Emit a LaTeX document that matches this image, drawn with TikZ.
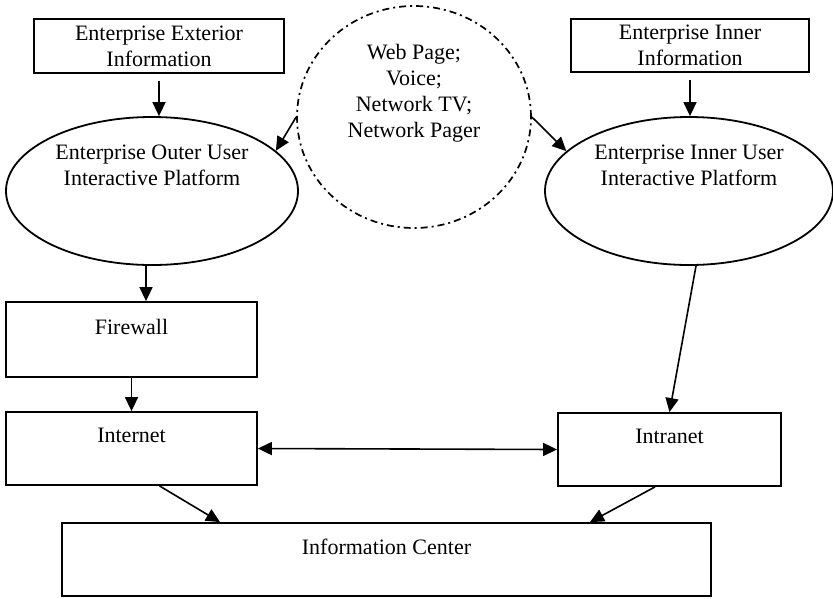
\documentclass[tikz,border=0pt]{standalone}
\usepackage{fontspec}
\setmainfont{Liberation Serif}
\usetikzlibrary{arrows.meta,shapes.geometric}

\begin{document}
\begin{tikzpicture}[x=1pt, y=-1pt,
                every node/.style={font=\fontsize{22}{26}\selectfont, align=center, inner sep=0pt},
                box_style/.style={draw, rectangle, line width=1.8pt},
                oval_style/.style={draw, ellipse, line width=1.8pt, minimum width=292pt, minimum height=148pt},
                media_style/.style={draw, ellipse, line width=1.7pt, dash pattern=on 7pt off 4pt on 2pt off 4pt},
                edge_style/.style={draw=black, line width=1.6pt, -{Triangle[length=14pt,width=13pt]}},
                both_style/.style={draw=black, line width=1.6pt, {Triangle[length=14pt,width=13pt]}-{Triangle[length=14pt,width=13pt]}}]
                \useasboundingbox (0,0) rectangle (833,598);
                \node[box_style, minimum width=250pt, minimum height=54pt] (ext) at (159,46) {Enterprise Exterior\\Information};
                \node[box_style, minimum width=238pt, minimum height=53pt] (inner) at (690,45.5) {Enterprise Inner\\Information};
                \node[media_style, minimum width=234pt, minimum height=222pt] (media) at (414,117) {Web Page;\\Voice;\\Network TV;\\Network Pager\\\mbox{}\\\mbox{}};
                \node[oval_style] (outer) at (152,191) {Enterprise Outer User\\Interactive Platform\\\mbox{}\\\mbox{}};
                \node[oval_style, minimum width=288pt] (innerUIP) at (689,191) {Enterprise Inner User\\Interactive Platform\\\mbox{}\\\mbox{}};
                \node[box_style, minimum width=251pt, minimum height=75pt] (fw) at (131.5,339.5) {Firewall\\\mbox{}};
                \node[box_style, minimum width=251pt, minimum height=73pt] (inet) at (131.5,448.5) {Internet\\\mbox{}};
                \node[box_style, minimum width=223pt, minimum height=73pt] (intra) at (669.5,449.5) {Intranet\\\mbox{}};
                \node[box_style, minimum width=649pt, minimum height=73pt] (info) at (386.5,559.5) {Information Center\\\mbox{}};
                \draw[edge_style, shorten <=7pt] (ext.south) -- (ext.south |- outer.north);
                \draw[edge_style, shorten <=7pt] (inner.south) -- (inner.south |- innerUIP.north);
                \draw[edge_style] (media.west) -- (outer.18);
                \draw[edge_style] (media.east) -- (innerUIP.162);
                \draw[edge_style] ([xshift=-6pt]outer.south) -- ([xshift=-6pt]outer.south |- fw.north);
                \draw[edge_style] (fw.south) -- (inet.north);
                \draw[edge_style] ([xshift=7pt]innerUIP.south) -- (intra.north);
                \draw[both_style] (inet.east) -- (intra.west);
                \draw[edge_style] ([xshift=28pt]inet.south) -- ([xshift=-166.5pt]info.north);
                \draw[edge_style] ([xshift=-14.5pt]intra.south) -- ([xshift=203.5pt]info.north);
            \end{tikzpicture}
\end{document}
